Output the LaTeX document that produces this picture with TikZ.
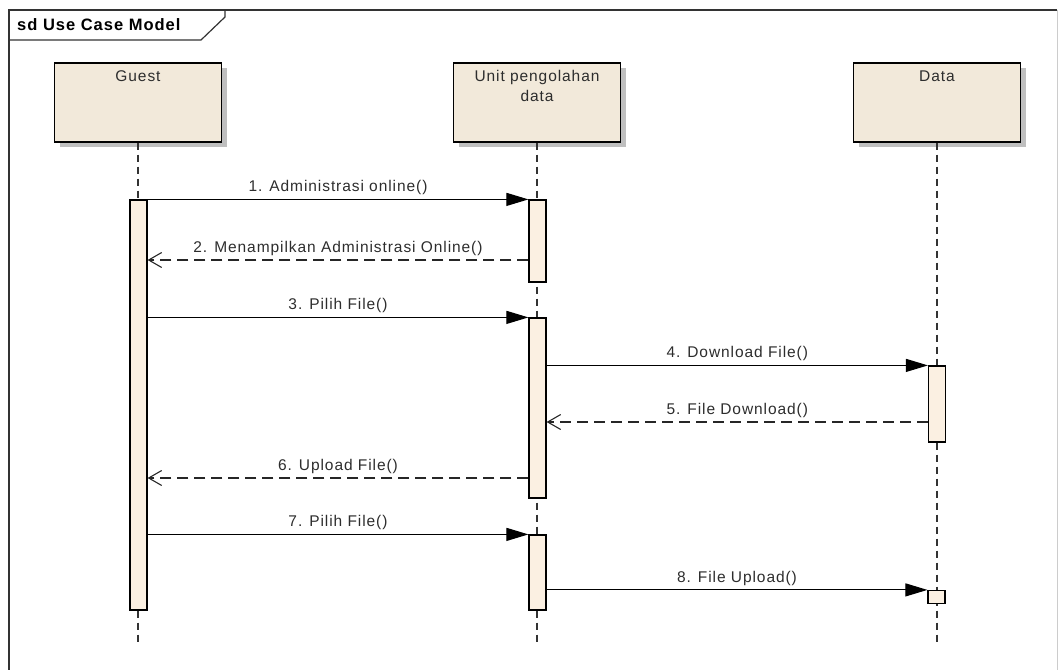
\documentclass[tikz,border=0pt]{standalone}
\usepackage{fontspec}
\setmainfont{Liberation Sans}[LetterSpace=6.0]
\usetikzlibrary{arrows.meta,positioning,shadows}

\definecolor{headfill}{RGB}{242,233,218}
\definecolor{actfill}{RGB}{251,240,226}
\definecolor{txtgray}{RGB}{45,45,45}

\begin{document}
\begin{tikzpicture}[
    x=1pt, y=-1pt,
    every node/.style={font=\fontsize{15.5}{20}\selectfont, text=txtgray},
    head/.style={rectangle, draw=black, line width=1.2pt, fill=headfill, minimum width=167pt, minimum height=79pt, inner sep=0pt,
                 drop shadow={shadow xshift=5pt, shadow yshift=-5pt, fill=black!25, opacity=1}},
    headTxt/.style={inner sep=0pt, align=center},
    act/.style={rectangle, draw=black, line width=1.2pt, fill=actfill, minimum width=17pt, inner sep=0pt},
    life/.style={draw=black!80, line width=1.2pt, dash pattern=on 7pt off 5pt},
    call/.style={draw=black, line width=1.1pt, -{Triangle[length=22pt,width=13pt]}},
    reply/.style={draw=black!85, line width=1.1pt, dash pattern=on 11pt off 6pt, -{Straight Barb[length=13pt,width=15pt,line width=1.1pt]}},
    msg/.style={midway, above=3pt, inner sep=1pt},
    frame/.style={draw=black!80, line width=1.5pt}
]
    \useasboundingbox (0,0) rectangle (1059,669);
    \clip (0,0) rectangle (1059,669);

    % frame and its tab
    \draw[frame] (9,700) -- (9,10) -- (1057,10);
    \draw[draw=black!20, line width=1pt] (1057,10) -- (1057,700);
    \draw[frame, line width=1.2pt] (9,40) -- (201,40) -- (225,17) -- (225,10);
    \node[font=\fontsize{16.5}{18}\selectfont\bfseries, text=black, anchor=west, inner sep=0pt] (title) at (17,25) {sd Use Case Model};

    % lifeline heads
    \node[head] (guest) at (138,102.5) {};
    \node[head] (unit) at (537,102.5) {};
    \node[head] (data) at (937,102.5) {};
    \node[headTxt, below=8pt of guest.north] {Guest};
    \node[headTxt, below=8pt of unit.north] {Unit pengolahan\\data};
    \node[headTxt, below=8pt of data.north] {Data};

    % lifelines
    \coordinate (gEnd) at (138,642);
    \coordinate (uEnd) at (537,642);
    \coordinate (dEnd) at (937,642);
    \draw[life] (guest.south) -- (gEnd);
    \draw[life] (unit.south) -- (uEnd);
    \draw[life] (data.south) -- (dEnd);

    % activations
    \node[act, minimum height=410pt] (ga) at (138.5,405) {};
    \node[act, minimum height=82pt] (ua1) at (537.5,241) {};
    \node[act, minimum height=180pt] (ua2) at (537.5,408) {};
    \node[act, minimum height=75pt] (ua3) at (537.5,572.5) {};
    \node[act, minimum height=76pt] (da1) at (937,404) {};
    \node[act, minimum height=13pt] (da2) at (936.5,597) {};

    % message rows
    \coordinate (r2) at (0,260);
    \coordinate (r5) at (0,422);
    \coordinate (r6) at (0,478);

    % messages
    \draw[call] (ga.east |- ua1.north) -- node[msg] {1. Administrasi online()} (ua1.north west);
    \draw[reply] (ua1.west |- r2) -- node[msg] {2. Menampilkan Administrasi Online()} (ga.east |- r2);
    \draw[call] (ga.east |- ua2.north) -- node[msg] {3. Pilih File()} (ua2.north west);
    \draw[call] (ua2.east |- da1.north) -- node[msg] {4. Download File()} (da1.north west);
    \draw[reply] (da1.west |- r5) -- node[msg] {5. File Download()} (ua2.east |- r5);
    \draw[reply] (ua2.west |- r6) -- node[msg] {6. Upload File()} (ga.east |- r6);
    \draw[call] (ga.east |- ua3.north) -- node[msg] {7. Pilih File()} (ua3.north west);
    \draw[call] (ua3.east |- da2.north) -- node[msg] {8. File Upload()} (da2.north west);
\end{tikzpicture}
\end{document}
